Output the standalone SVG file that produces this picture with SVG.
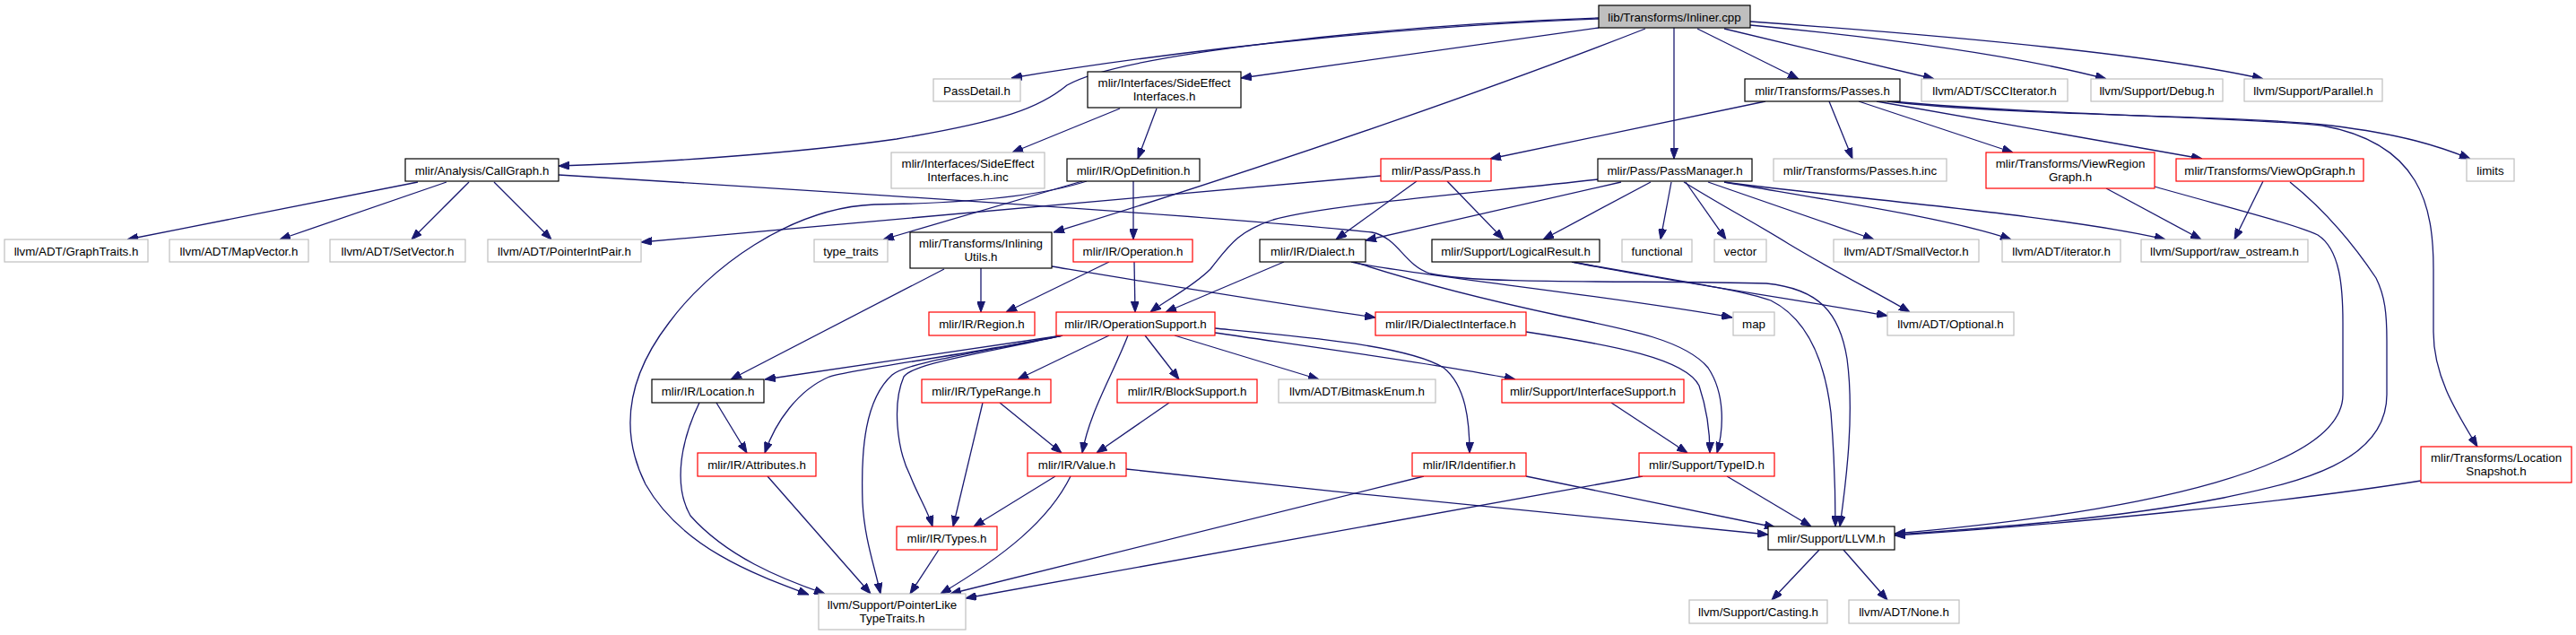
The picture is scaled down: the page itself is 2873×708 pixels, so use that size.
<svg xmlns="http://www.w3.org/2000/svg" width="2873" height="708" viewBox="0 0 2873 708">
<style>
text{font-family:"Liberation Sans",Arial,Helvetica,sans-serif;font-size:13.33px;text-anchor:middle;fill:#000}
.b rect{fill:#fff;stroke:#000;stroke-width:1.2}
.g rect{fill:#fff;stroke:#bfbfbf;stroke-width:1.2}
.r rect{fill:#fff;stroke:#ff0000;stroke-width:1.2}
.root rect{fill:#bfbfbf;stroke:#000;stroke-width:1.2}
#edges path{fill:none;stroke:#191970;stroke-width:1.3;marker-end:url(#ah)}
</style>
<defs>
<marker id="ah" viewBox="0 0 12 9" refX="12" refY="4.5" markerWidth="12" markerHeight="9" markerUnits="userSpaceOnUse" orient="auto">
<path d="M0,0 L12,4.5 L0,9 z" fill="#191970" stroke="#191970"/>
</marker>
</defs>
<rect width="2873" height="708" fill="#fff"/>
<g id="edges">
<path d="M1783,21 C1600,28 1350,50 1128,87"/>
<path d="M1783,20 C1550,28 1250,60 1190,95 C1160,120 1120,135 1000,155 C880,172 720,182 623,185"/>
<path d="M1783,31 L1384,87"/>
<path d="M1835,32 C1700,85 1450,175 1175,259"/>
<path d="M1867,31 L1867,177"/>
<path d="M1893,32 L2006,88"/>
<path d="M1923,32 L2157,88"/>
<path d="M1952,28 C2100,42 2250,62 2349,88"/>
<path d="M1952,24 C2150,38 2400,60 2524,88"/>
<path d="M466,203 L142,267"/>
<path d="M498,203 L312,267"/>
<path d="M523,203 L459,267"/>
<path d="M551,203 L615,267"/>
<path d="M623,195 C900,212 1350,240 1530,259 C1560,265 1565,295 1595,305 C1650,318 1850,312 1970,316 C2030,322 2052,350 2060,400 C2068,460 2060,530 2052,587"/>
<path d="M1249,121 L1129,170"/>
<path d="M1290,121 L1269,177"/>
<path d="M1207,202 L985,267"/>
<path d="M1264,202 L1264,267"/>
<path d="M1212,202 C1150,222 1050,227 975,228 C880,232 790,300 746,360 C700,420 690,480 720,540 C760,610 840,640 902,663"/>
<path d="M1969,113 L1662,177"/>
<path d="M2040,113 L2066,177"/>
<path d="M2073,113 L2245,170"/>
<path d="M2093,113 L2456,177"/>
<path d="M2105,113 C2250,130 2500,128 2600,140 C2680,150 2720,163 2755,177"/>
<path d="M2110,113 C2300,130 2500,130 2590,140 C2700,160 2714,230 2714,300 L2714,370 C2714,420 2740,460 2763,498"/>
<path d="M2349,210 L2455,267"/>
<path d="M2524,202 L2492,267"/>
<path d="M2403,208 C2480,230 2560,250 2585,262 C2610,278 2613,320 2613,360 L2613,440 C2613,520 2400,570 2113,595"/>
<path d="M2554,203 C2600,240 2630,280 2650,310 C2660,330 2662,350 2662,380 L2662,440 C2662,520 2550,540 2480,555 C2350,580 2200,590 2113,596"/>
<path d="M2700,536 C2550,560 2300,585 2113,597"/>
<path d="M1580,202 L1490,267"/>
<path d="M1614,202 L1677,267"/>
<path d="M1540,196 C1400,210 1100,235 715,270"/>
<path d="M1782,200 C1650,215 1480,228 1420,245 C1380,258 1370,275 1350,300 C1330,320 1300,335 1283,348"/>
<path d="M1808,203 L1523,268"/>
<path d="M1841,203 L1721,267"/>
<path d="M1864,203 L1852,267"/>
<path d="M1880,203 L1925,267"/>
<path d="M1905,203 L2090,267"/>
<path d="M1923,203 C2050,225 2180,245 2243,267"/>
<path d="M1923,203 C2050,220 2300,240 2415,267"/>
<path d="M1878,203 C1930,235 1960,250 1995,272 C2050,305 2100,330 2130,348"/>
<path d="M1507,292 C1560,305 1800,330 1932,354"/>
<path d="M1510,292 C1580,315 1660,335 1740,352 C1820,368 1880,380 1905,410 C1925,440 1922,480 1915,505"/>
<path d="M1702,370 C1800,385 1880,400 1895,430 C1905,460 1907,485 1907,505"/>
<path d="M1797,449 L1882,505"/>
<path d="M1432,292 L1300,348"/>
<path d="M1094,299 L1094,348"/>
<path d="M1053,300 L815,423"/>
<path d="M1173,297 C1300,318 1420,338 1534,354"/>
<path d="M1237,292 L1122,348"/>
<path d="M1265,292 L1266,348"/>
<path d="M1185,374 L853,423"/>
<path d="M1185,374 C1100,392 960,410 925,420 C890,435 865,470 853,505"/>
<path d="M1185,374 C1080,395 1010,405 995,418 C965,445 960,500 962,560 C964,600 975,630 982,662"/>
<path d="M1185,374 C1080,397 1020,405 1008,420 C995,450 1000,500 1015,530 C1025,555 1035,570 1040,587"/>
<path d="M1237,374 L1135,423"/>
<path d="M1258,374 C1240,420 1215,460 1207,505"/>
<path d="M1277,374 L1315,423"/>
<path d="M1310,374 L1471,423"/>
<path d="M1355,371 C1450,385 1600,405 1690,423"/>
<path d="M1355,366 C1450,375 1570,385 1610,410 C1635,430 1639,470 1639,505"/>
<path d="M799,449 L833,505"/>
<path d="M780,449 C760,490 750,540 770,575 C810,620 870,645 920,662"/>
<path d="M856,531 L971,662"/>
<path d="M1096,449 L1063,587"/>
<path d="M1115,449 L1184,505"/>
<path d="M1304,449 L1223,505"/>
<path d="M1177,531 L1086,587"/>
<path d="M1194,531 C1170,580 1120,620 1049,662"/>
<path d="M1047,613 L1015,662"/>
<path d="M1256,523 C1500,550 1800,580 1972,596"/>
<path d="M1588,531 L1060,662"/>
<path d="M1832,531 L1077,667"/>
<path d="M1702,531 L1980,588"/>
<path d="M1926,531 L2020,587"/>
<path d="M2029,613 L1976,669"/>
<path d="M2056,613 L2105,669"/>
<path d="M1753,292 C1850,312 2000,333 2105,352"/>
<path d="M1753,292 C1850,310 1940,322 1975,335 C2015,355 2035,400 2042,460 C2046,510 2047,550 2047,587"/>
</g>
<g id="n_inliner" class="root"><rect x="1783" y="6" width="169" height="25"/><text x="1867.5" y="23.5">lib/Transforms/Inliner.cpp</text></g>
<g id="n_passdetail" class="g"><rect x="1041" y="88" width="97" height="25"/><text x="1089.5" y="105.5">PassDetail.h</text></g>
<g id="n_callgraph" class="b"><rect x="452" y="177" width="171" height="25"/><text x="537.5" y="194.5">mlir/Analysis/CallGraph.h</text></g>
<g id="n_sideeffect" class="b"><rect x="1213" y="80" width="171" height="40"/><text x="1298.5" y="97">mlir/Interfaces/SideEffect</text><text x="1298.5" y="112">Interfaces.h</text></g>
<g id="n_inlining" class="b"><rect x="1015" y="259" width="158" height="40"/><text x="1094" y="276">mlir/Transforms/Inlining</text><text x="1094" y="291">Utils.h</text></g>
<g id="n_passmanager" class="b"><rect x="1782" y="177" width="172" height="25"/><text x="1868" y="194.5">mlir/Pass/PassManager.h</text></g>
<g id="n_tpasses" class="b"><rect x="1946" y="88" width="173" height="25"/><text x="2032.5" y="105.5">mlir/Transforms/Passes.h</text></g>
<g id="n_scc" class="g"><rect x="2143" y="88" width="163" height="25"/><text x="2224.5" y="105.5">llvm/ADT/SCCIterator.h</text></g>
<g id="n_debug" class="g"><rect x="2332" y="88" width="147" height="25"/><text x="2405.5" y="105.5">llvm/Support/Debug.h</text></g>
<g id="n_parallel" class="g"><rect x="2503" y="88" width="154" height="25"/><text x="2580" y="105.5">llvm/Support/Parallel.h</text></g>
<g id="n_graphtraits" class="g"><rect x="5" y="267" width="160" height="25"/><text x="85" y="284.5">llvm/ADT/GraphTraits.h</text></g>
<g id="n_mapvector" class="g"><rect x="189" y="267" width="155" height="25"/><text x="266.5" y="284.5">llvm/ADT/MapVector.h</text></g>
<g id="n_setvector" class="g"><rect x="368" y="267" width="151" height="25"/><text x="443.5" y="284.5">llvm/ADT/SetVector.h</text></g>
<g id="n_pointerintpair" class="g"><rect x="544" y="267" width="171" height="25"/><text x="629.5" y="284.5">llvm/ADT/PointerIntPair.h</text></g>
<g id="n_llvm" class="b"><rect x="1972" y="587" width="141" height="26"/><text x="2042.5" y="605">mlir/Support/LLVM.h</text></g>
<g id="n_sideeffectinc" class="g"><rect x="994" y="170" width="171" height="40"/><text x="1079.5" y="187">mlir/Interfaces/SideEffect</text><text x="1079.5" y="202">Interfaces.h.inc</text></g>
<g id="n_opdef" class="b"><rect x="1190" y="177" width="148" height="25"/><text x="1264" y="194.5">mlir/IR/OpDefinition.h</text></g>
<g id="n_typetraits" class="g"><rect x="908" y="267" width="82" height="25"/><text x="949" y="284.5">type_traits</text></g>
<g id="n_operation" class="r"><rect x="1197" y="267" width="133" height="25"/><text x="1263.5" y="284.5">mlir/IR/Operation.h</text></g>
<g id="n_pointerlike" class="g"><rect x="913" y="662" width="164" height="40"/><text x="995" y="679">llvm/Support/PointerLike</text><text x="995" y="694">TypeTraits.h</text></g>
<g id="n_region" class="r"><rect x="1036" y="348" width="118" height="26"/><text x="1095" y="366">mlir/IR/Region.h</text></g>
<g id="n_opsupport" class="r"><rect x="1178" y="348" width="177" height="26"/><text x="1266.5" y="366">mlir/IR/OperationSupport.h</text></g>
<g id="n_location" class="b"><rect x="727" y="423" width="125" height="26"/><text x="789.5" y="441">mlir/IR/Location.h</text></g>
<g id="n_attributes" class="r"><rect x="778" y="505" width="132" height="26"/><text x="844" y="523">mlir/IR/Attributes.h</text></g>
<g id="n_typerange" class="r"><rect x="1028" y="423" width="144" height="26"/><text x="1100" y="441">mlir/IR/TypeRange.h</text></g>
<g id="n_blocksupport" class="r"><rect x="1246" y="423" width="156" height="26"/><text x="1324" y="441">mlir/IR/BlockSupport.h</text></g>
<g id="n_value" class="r"><rect x="1146" y="505" width="110" height="26"/><text x="1201" y="523">mlir/IR/Value.h</text></g>
<g id="n_types" class="r"><rect x="1000" y="587" width="112" height="26"/><text x="1056" y="605">mlir/IR/Types.h</text></g>
<g id="n_bitmask" class="g"><rect x="1426" y="423" width="175" height="26"/><text x="1513.5" y="441">llvm/ADT/BitmaskEnum.h</text></g>
<g id="n_interfacesupport" class="r"><rect x="1675" y="423" width="203" height="26"/><text x="1776.5" y="441">mlir/Support/InterfaceSupport.h</text></g>
<g id="n_identifier" class="r"><rect x="1575" y="505" width="127" height="26"/><text x="1638.5" y="523">mlir/IR/Identifier.h</text></g>
<g id="n_typeid" class="r"><rect x="1828" y="505" width="151" height="26"/><text x="1903.5" y="523">mlir/Support/TypeID.h</text></g>
<g id="n_dialectinterface" class="r"><rect x="1534" y="348" width="168" height="26"/><text x="1618" y="366">mlir/IR/DialectInterface.h</text></g>
<g id="n_dialect" class="b"><rect x="1405" y="267" width="118" height="25"/><text x="1464" y="284.5">mlir/IR/Dialect.h</text></g>
<g id="n_pass" class="r"><rect x="1540" y="177" width="123" height="25"/><text x="1601.5" y="194.5">mlir/Pass/Pass.h</text></g>
<g id="n_logicalresult" class="b"><rect x="1597" y="267" width="187" height="25"/><text x="1690.5" y="284.5">mlir/Support/LogicalResult.h</text></g>
<g id="n_functional" class="g"><rect x="1809" y="267" width="78" height="25"/><text x="1848" y="284.5">functional</text></g>
<g id="n_vector" class="g"><rect x="1912" y="267" width="58" height="25"/><text x="1941" y="284.5">vector</text></g>
<g id="n_smallvector" class="g"><rect x="2045" y="267" width="162" height="25"/><text x="2126" y="284.5">llvm/ADT/SmallVector.h</text></g>
<g id="n_iterator" class="g"><rect x="2233" y="267" width="132" height="25"/><text x="2299" y="284.5">llvm/ADT/iterator.h</text></g>
<g id="n_rawostream" class="g"><rect x="2388" y="267" width="186" height="25"/><text x="2481" y="284.5">llvm/Support/raw_ostream.h</text></g>
<g id="n_map" class="g"><rect x="1933" y="348" width="46" height="26"/><text x="1956" y="366">map</text></g>
<g id="n_optional" class="g"><rect x="2105" y="348" width="141" height="26"/><text x="2175.5" y="366">llvm/ADT/Optional.h</text></g>
<g id="n_passesinc" class="g"><rect x="1978" y="177" width="193" height="25"/><text x="2074.5" y="194.5">mlir/Transforms/Passes.h.inc</text></g>
<g id="n_viewregion" class="r"><rect x="2215" y="170" width="188" height="40"/><text x="2309" y="187">mlir/Transforms/ViewRegion</text><text x="2309" y="202">Graph.h</text></g>
<g id="n_viewop" class="r"><rect x="2427" y="177" width="209" height="25"/><text x="2531.5" y="194.5">mlir/Transforms/ViewOpGraph.h</text></g>
<g id="n_limits" class="g"><rect x="2751" y="177" width="53" height="25"/><text x="2777.5" y="194.5">limits</text></g>
<g id="n_locsnapshot" class="r"><rect x="2700" y="498" width="168" height="40"/><text x="2784" y="515">mlir/Transforms/Location</text><text x="2784" y="530">Snapshot.h</text></g>
<g id="n_casting" class="g"><rect x="1884" y="669" width="154" height="26"/><text x="1961" y="687">llvm/Support/Casting.h</text></g>
<g id="n_none" class="g"><rect x="2062" y="669" width="123" height="26"/><text x="2123.5" y="687">llvm/ADT/None.h</text></g>
</svg>
